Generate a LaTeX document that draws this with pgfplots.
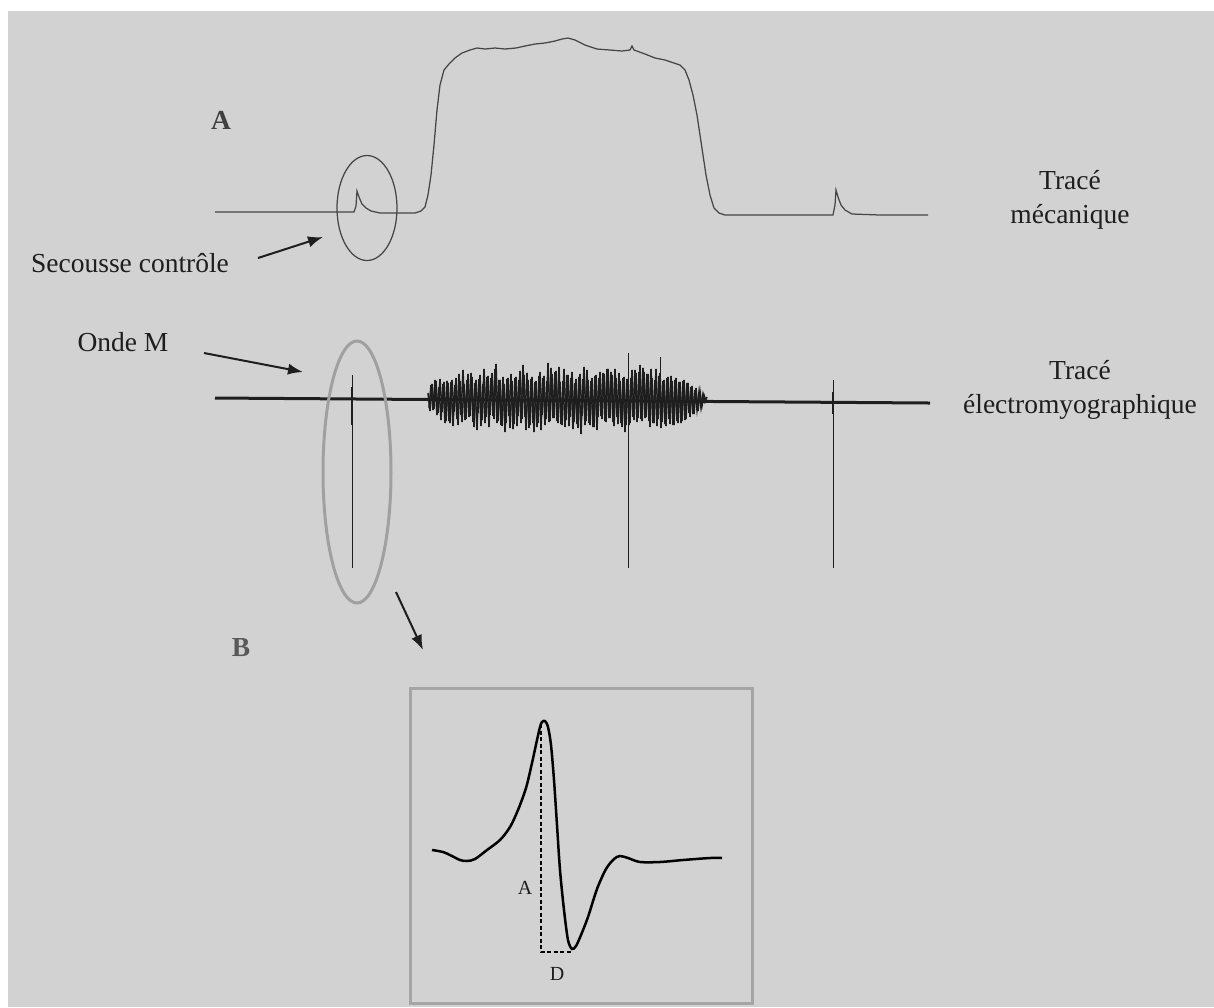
\documentclass[border=0pt]{standalone}
\usepackage{pgfplots}
\pgfplotsset{compat=1.18}
\usepackage{fontspec}
\setmainfont{Liberation Serif}
\usetikzlibrary{arrows.meta}
\definecolor{bg}{RGB}{210,210,210}
\definecolor{trace}{RGB}{70,70,70}
\definecolor{ink}{RGB}{30,30,30}
\definecolor{ringgray}{RGB}{160,160,160}
\definecolor{boxgray}{RGB}{165,165,165}
\begin{document}
\begin{tikzpicture}
\begin{axis}[scale only axis,width=485.6pt,height=402.8pt,
  xmin=0,xmax=1214,ymin=0,ymax=1007,y dir=reverse,hide axis,clip=false]
% page background
\fill[white] (axis cs:0,0) rectangle (axis cs:1214,1007);
\fill[bg] (axis cs:8,11) rectangle (axis cs:1214,1007);

% mechanical trace
\addplot[trace,line width=0.5pt,mark=none] coordinates {
(215,212)(300,212)(354,212)(356,206)(357,191)(359,197)(362,204)(366,208)(371,211)(380,213)
(400,213)(415,213)(421,211)(425,207)(428,195)(431,175)(434,145)(437,110)(440,85)(444,70)
(449,64)(455,58)(462,53)(470,50)(477,48)(485,49)(495,48)(505,49)(516,48)(525,46)
(535,44)(545,43)(555,41)(562,39)(568,38)(575,40)(585,45)(597,49)(610,50)(622,51)
(630,50)(632,46)(634,50)(645,54)(655,58)(665,60)(674,63)(680,65)(685,70)(689,80)
(693,95)(697,115)(700,135)(703,155)(706,175)(710,195)(714,208)(719,213)(725,215)(760,215)
(800,215)(833,215)(835,205)(836,190)(838,197)(841,205)(845,210)(852,214)(880,215)(928,215)};

% EMG baseline
\addplot[ink,line width=1.2pt,mark=none] coordinates {(215,398)(930,403)};
% EMG burst, even samples
\addplot[ink,line width=0.6pt,mark=none] coordinates {
(428,393)(430,411)(432,384)(434,409)(436,381)(438,413)(440,379)(442,412)(444,382)(446,421)
(448,383)(450,423)(452,380)(454,412)(456,378)(458,425)(460,381)(462,422)(464,384)(466,419)
(468,374)(470,416)(472,377)(474,427)(476,380)(478,413)(480,375)(482,420)(484,369)(486,417)
(488,376)(490,415)(492,373)(494,419)(496,364)(498,421)(500,380)(502,426)(504,384)(506,423)
(508,378)(510,428)(512,381)(514,424)(516,377)(518,416)(520,371)(522,419)(524,375)(526,430)
(528,380)(530,425)(532,377)(534,432)(536,381)(538,423)(540,372)(542,415)(544,376)(546,419)
(548,363)(550,421)(552,374)(554,418)(556,371)(558,423)(560,382)(562,425)(564,369)(566,420)
(568,375)(570,417)(572,372)(574,422)(576,379)(578,428)(580,374)(582,416)(584,367)(586,421)
(588,380)(590,425)(592,378)(594,427)(596,375)(598,417)(600,372)(602,419)(604,374)(606,422)
(608,369)(610,418)(612,375)(614,426)(616,378)(618,424)(620,381)(622,427)(624,377)(626,425)
(628,379)(630,423)(632,370)(634,420)(636,373)(638,418)(640,365)(642,421)(644,372)(646,417)
(648,374)(650,427)(652,378)(654,423)(656,369)(658,419)(660,373)(662,422)(664,380)(666,426)
(668,377)(670,424)(672,381)(674,425)(676,378)(678,423)(680,382)(682,421)(684,380)(686,419)
(688,383)(690,417)(692,386)(694,414)(696,388)(698,411)(700,391)(702,406)(704,395)(706,401)};
% EMG burst, odd samples
\addplot[ink,line width=0.6pt,mark=none] coordinates {
(429,408)(431,385)(433,410)(435,380)(437,415)(439,387)(441,420)(443,384)(445,423)(447,381)
(449,421)(451,382)(453,426)(455,385)(457,419)(459,374)(461,415)(463,370)(465,420)(467,380)
(469,417)(471,373)(473,422)(475,383)(477,430)(479,379)(481,426)(483,384)(485,423)(487,377)
(489,427)(491,378)(493,416)(495,369)(497,423)(499,380)(501,425)(503,377)(505,432)(507,379)
(509,416)(511,374)(513,429)(515,378)(517,426)(519,380)(521,423)(523,365)(525,417)(527,373)
(529,428)(531,379)(533,423)(535,382)(537,427)(539,376)(541,430)(543,378)(545,425)(547,381)
(549,422)(551,368)(553,418)(555,372)(557,421)(559,367)(561,424)(563,381)(565,427)(567,375)
(569,426)(571,378)(573,429)(575,383)(577,424)(579,377)(581,434)(583,379)(585,425)(587,370)
(589,423)(591,381)(593,427)(595,376)(597,430)(599,378)(601,416)(603,373)(605,421)(607,369)
(609,418)(611,372)(613,422)(615,369)(617,417)(619,373)(621,423)(623,378)(625,432)(627,379)
(629,425)(631,378)(633,417)(635,370)(637,422)(639,372)(641,419)(643,368)(645,418)(647,374)
(649,421)(651,369)(653,423)(655,380)(657,426)(659,376)(661,428)(663,381)(665,424)(667,378)
(669,419)(671,376)(673,425)(675,380)(677,421)(679,382)(681,423)(683,381)(685,420)(687,383)
(689,413)(691,387)(693,414)(695,390)(697,410)(699,392)(701,408)(703,394)(705,402)(707,397)};
% stimulation artefacts
\addplot[ink,line width=0.4pt,mark=none] coordinates {(352,375)(352,568)};
\addplot[ink,line width=1.1pt,mark=none] coordinates {(352,387)(352,425)};
\addplot[ink,line width=0.4pt,mark=none] coordinates {(628,353)(628,568)};
\addplot[ink,line width=0.4pt,mark=none] coordinates {(660,357)(660,399)};
\addplot[ink,line width=0.4pt,mark=none] coordinates {(833,380)(833,568)};
\addplot[ink,line width=1.1pt,mark=none] coordinates {(833,392)(833,414)};

% rings
\draw[trace,line width=0.5pt] (axis cs:367,208) ellipse [x radius=12pt,y radius=21pt];
\draw[ringgray,line width=1.2pt] (axis cs:357,472) ellipse [x radius=13.6pt,y radius=52.4pt];

% arrows
\draw[ink,line width=0.8pt,-{Latex[length=6pt,width=4.5pt]}] (axis cs:258,258) -- (axis cs:323,237);
\draw[ink,line width=0.8pt,-{Latex[length=6pt,width=4.5pt]}] (axis cs:204,353) -- (axis cs:303,372);
\draw[ink,line width=0.8pt,-{Latex[length=6pt,width=4.5pt]}] (axis cs:396,592) -- (axis cs:423,650);

% labels
\node[text=black!75,font=\fontsize{11}{13}\selectfont\bfseries] at (axis cs:221,120) {A};
\node[text=ink,font=\fontsize{11}{13}\selectfont] at (axis cs:130,263) {Secousse contrôle};
\node[text=ink,font=\fontsize{11}{13}\selectfont] at (axis cs:123,342) {Onde M};
\node[text=ink,align=center,font=\fontsize{11}{13.6}\selectfont] at (axis cs:1070,200) {Tracé\\mécanique};
\node[text=ink,align=center,font=\fontsize{11}{13.6}\selectfont] at (axis cs:1080,390) {Tracé\\électromyographique};
\node[text=black!65,font=\fontsize{11}{13}\selectfont\bfseries] at (axis cs:241,648) {B};

% inset B
\draw[boxgray,line width=1.2pt] (axis cs:410,688) rectangle (axis cs:752,1003);
\addplot[black,line width=1pt,mark=none,smooth,tension=0.5] coordinates {
(432,850)(443,852)(452,856)(460,860)(467,861)(475,859)(487,850)(500,840)(510,827)(518,810)
(526,788)(532,763)(537,740)(540,727)(542,722)(545,721)(548,727)(551,745)(554,780)(557,825)
(560,870)(564,910)(568,940)(572,949)(576,946)(581,935)(588,917)(597,889)(606,869)(614,859)
(620,856)(628,858)(640,862)(660,862)(683,860)(710,858)(722,858)};
\draw[black,line width=0.5pt,dash pattern=on 1.6pt off 1pt] (axis cs:541,724) -- (axis cs:541,952) -- (axis cs:573,952);
\node[text=ink,font=\fontsize{8}{9}\selectfont] at (axis cs:525,888) {A};
\node[text=ink,font=\fontsize{8}{9}\selectfont] at (axis cs:557,974) {D};
\end{axis}
\end{tikzpicture}
\end{document}
